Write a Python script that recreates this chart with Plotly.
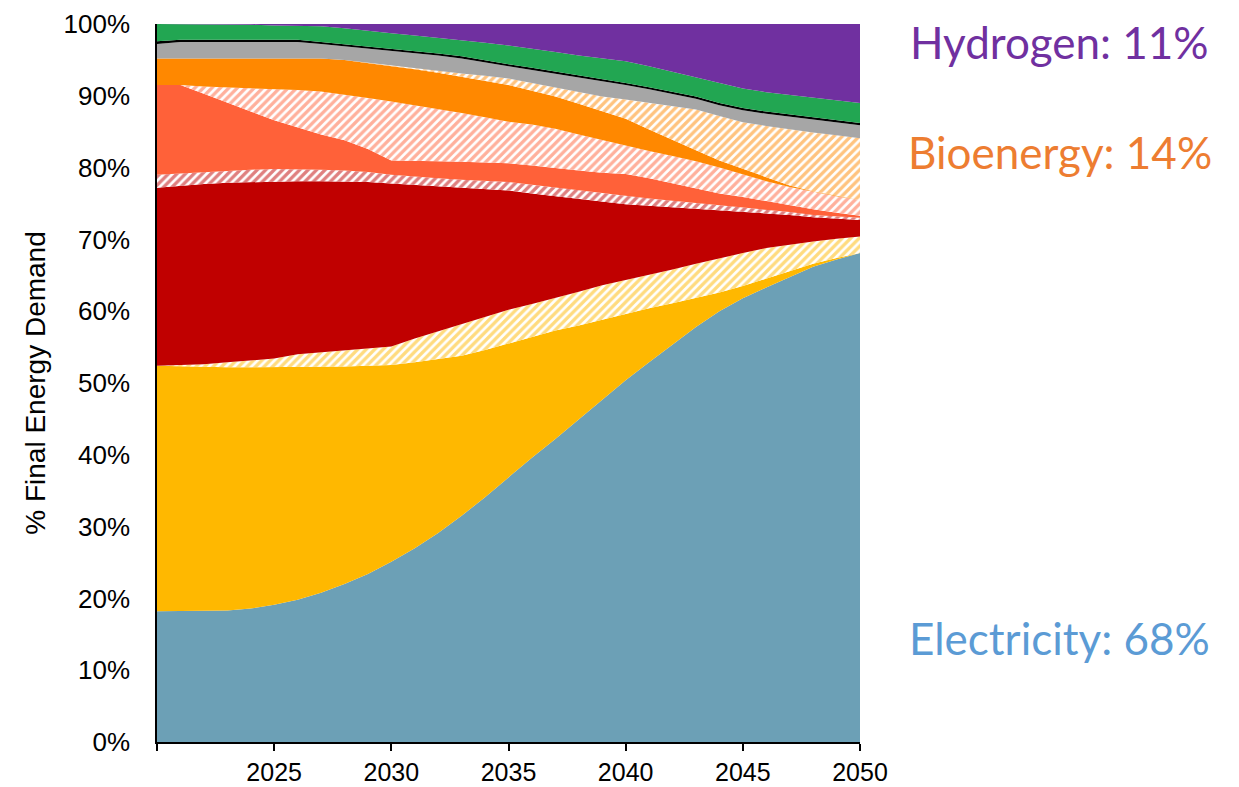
import plotly.graph_objects as go

years = list(range(2020, 2051))

electricity = [18.2, 18.2, 18.2, 18.3, 18.6, 19.1, 19.8, 20.8, 22.0, 23.4, 25.1, 27.0, 29.1, 31.5, 34.1, 36.9,
               39.6, 42.2, 44.9, 47.6, 50.4, 52.9, 55.4, 57.8, 60.0, 61.8, 63.3, 64.8, 66.2, 67.2, 68.1]
fossil_yellow = [34.2, 34.1, 34.0, 33.9, 33.6, 33.1, 32.4, 31.5, 30.3, 29.0, 27.4, 25.9, 24.2, 22.3, 20.5, 18.6,
                 16.8, 15.1, 13.1, 11.2, 9.3, 7.5, 5.7, 4.0, 2.6, 1.7, 1.2, 0.7, 0.4, 0.2, 0.0]
bio_yellow = [0.0, 0.2, 0.4, 0.7, 0.9, 1.2, 1.8, 2.0, 2.3, 2.4, 2.6, 3.3, 3.9, 4.5, 4.7, 4.7,
              4.6, 4.5, 4.7, 4.8, 4.6, 4.6, 4.7, 4.8, 4.8, 4.6, 4.3, 3.8, 3.1, 2.7, 2.3]
fossil_red = [24.8, 25.0, 25.1, 25.0, 24.9, 24.7, 24.1, 23.8, 23.5, 23.2, 22.7, 21.4, 20.2, 18.9, 17.7, 16.6,
              15.4, 14.2, 12.9, 11.6, 10.6, 9.7, 8.7, 7.7, 6.6, 5.7, 4.8, 4.1, 3.4, 2.8, 2.3]
bio_red = [1.8, 1.7, 1.7, 1.7, 1.7, 1.7, 1.7, 1.6, 1.5, 1.4, 1.2, 1.1, 1.1, 1.1, 1.1, 1.2,
           1.2, 1.2, 1.2, 1.2, 1.1, 1.0, 0.9, 0.8, 0.7, 0.6, 0.5, 0.4, 0.3, 0.3, 0.3]
fossil_coral = [12.5, 12.3, 10.9, 9.4, 8.1, 6.8, 5.8, 4.9, 4.2, 3.2, 2.0, 2.3, 2.4, 2.5, 2.6, 2.6,
                2.7, 2.7, 2.8, 2.9, 3.1, 2.8, 2.4, 1.9, 1.7, 1.5, 1.2, 0.9, 0.8, 0.5, 0.3]
bio_coral = [0.0, 0.0, 1.0, 2.2, 3.2, 4.3, 5.2, 6.0, 6.4, 7.1, 8.2, 7.7, 7.3, 6.8, 6.3, 5.8,
             5.7, 5.5, 5.0, 4.5, 3.9, 3.8, 3.8, 3.9, 3.6, 3.1, 2.8, 2.6, 2.4, 2.3, 2.2]
fossil_orange = [3.7, 3.7, 3.9, 4.0, 4.2, 4.3, 4.4, 4.6, 4.8, 4.9, 5.0, 5.0, 5.0, 5.0, 5.1, 5.1,
                 4.7, 4.5, 4.3, 4.0, 3.8, 3.0, 2.2, 1.5, 1.0, 0.8, 0.5, 0.2, 0.1, 0.1, 0.0]
bio_orange = [0.0, 0.0, 0.0, 0.0, 0.0, 0.0, 0.0, 0.0, 0.0, 0.0, 0.1, 0.2, 0.3, 0.5, 0.7, 0.9,
              1.1, 1.3, 1.7, 2.1, 2.7, 3.7, 4.8, 5.7, 6.2, 6.5, 7.2, 7.8, 8.2, 8.4, 8.6]
grey = [2.0, 2.3, 2.3, 2.3, 2.3, 2.3, 2.3, 2.0, 1.9, 2.0, 2.0, 2.1, 2.1, 2.1, 1.8, 1.7,
        1.8, 1.9, 2.0, 2.2, 2.0, 1.9, 1.7, 1.5, 1.5, 1.7, 1.7, 1.8, 1.8, 1.8, 1.8]
black = [0.4, 0.3, 0.3, 0.3, 0.3, 0.3, 0.3, 0.3, 0.3, 0.3, 0.3, 0.3, 0.3, 0.3, 0.3, 0.3,
         0.3, 0.3, 0.3, 0.3, 0.3, 0.3, 0.3, 0.3, 0.3, 0.3, 0.3, 0.3, 0.3, 0.3, 0.3]
green = [2.4, 2.2, 2.2, 2.2, 2.1, 2.0, 2.0, 2.2, 2.2, 2.1, 2.1, 2.1, 2.2, 2.3, 2.5, 2.6,
         2.7, 2.7, 2.7, 2.8, 3.0, 2.9, 2.7, 2.6, 2.7, 2.7, 2.7, 2.7, 2.7, 2.7, 2.8]
hydrogen = [0.0, 0.0, 0.0, 0.0, 0.1, 0.2, 0.2, 0.3, 0.6, 1.0, 1.3, 1.6, 1.9, 2.2, 2.6, 3.0,
            3.4, 3.9, 4.4, 4.8, 5.2, 5.9, 6.7, 7.5, 8.3, 9.0, 9.5, 9.9, 10.3, 10.7, 11.0]

x_tick_vals = [2020, 2025, 2030, 2035, 2040, 2045, 2050]
x_tick_text = ["", "2025", "2030", "2035", "2040", "2045", "2050"]
y_tick_vals = [0, 10, 20, 30, 40, 50, 60, 70, 80, 90, 100]
y_tick_text = ["0%", "10%", "20%", "30%", "40%", "50%", "60%", "70%", "80%", "90%", "100%"]

series = [
    ("Electricity", electricity, "#6CA0B6", False),
    ("Fossil A", fossil_yellow, "#FFB800", False),
    ("Bio A", bio_yellow, "#FFB800", True),
    ("Fossil B", fossil_red, "#C00000", False),
    ("Bio B", bio_red, "#C00000", True),
    ("Fossil C", fossil_coral, "#FF6139", False),
    ("Bio C", bio_coral, "#FF6139", True),
    ("Fossil D", fossil_orange, "#FF8800", False),
    ("Bio D", bio_orange, "#FF8800", True),
    ("Other", grey, "#A6A6A6", False),
    ("Other 2", black, "#000000", False),
    ("Other 3", green, "#22A652", False),
    ("Hydrogen", hydrogen, "#7030A0", False),
]

fig = go.Figure()
for name, vals, color, hatched in series:
    kw = dict(x=years, y=vals, name=name, mode="lines", stackgroup="one", groupnorm="percent",
              line=dict(width=0, color=color), showlegend=False, hoverinfo="x+y+name")
    if hatched:
        kw["fillcolor"] = "white"
        kw["fillpattern"] = dict(shape="/", fgcolor=color, bgcolor="white", size=6, solidity=0.55)
    else:
        kw["fillcolor"] = color
    fig.add_trace(go.Scatter(**kw))

axis_font = dict(family="Liberation Sans, Arial, sans-serif", size=26, color="black")
x_font = dict(family="Liberation Sans, Arial, sans-serif", size=25, color="black")

fig.update_layout(
    width=1239, height=787,
    margin=dict(l=157, r=379, t=24, b=45),
    paper_bgcolor="white", plot_bgcolor="white",
    xaxis=dict(range=[2020, 2050], tickmode="array", tickvals=x_tick_vals, ticktext=x_tick_text,
               showgrid=False, zeroline=False, showline=True, linecolor="black", linewidth=1.5,
               ticks="outside", ticklen=7, tickcolor="black", tickwidth=1.5, tickfont=x_font,
               automargin=False),
    yaxis=dict(range=[0, 100], tickmode="array", tickvals=y_tick_vals, ticktext=y_tick_text,
               showgrid=False, zeroline=False, showline=True, linecolor="black", linewidth=1.5,
               ticks="", ticklabelstandoff=20, tickfont=axis_font, automargin=False,
               title=dict(text="% Final Energy Demand",
                          font=dict(family="Liberation Sans, Arial, sans-serif", size=28, color="black"),
                          standoff=10)),
)

ann_font = "Lato, Calibri, Carlito, sans-serif"
labels = [
    ("Hydrogen: 11%", "#7030A0", 0.975),
    ("Bioenergy: 14%", "#ED7D31", 0.822),
    ("Electricity: 68%", "#5B9BD5", 0.145),
]
for text, color, yy in labels:
    fig.add_annotation(text=text, xref="paper", yref="paper", x=1.284, y=yy, xanchor="center",
                       yanchor="middle", showarrow=False, font=dict(family=ann_font, size=44, color=color))

fig.write_html("out.html", config={"displayModeBar": False},
               post_script="document.body.style.margin='0px';document.body.style.overflow='hidden';")
